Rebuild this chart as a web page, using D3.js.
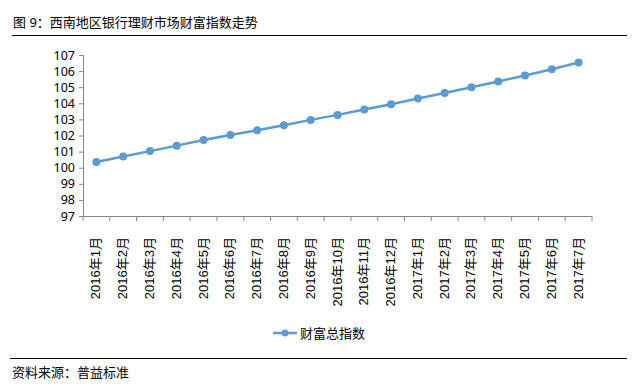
<!DOCTYPE html>
<html lang='zh'>
<head>
  <meta charset='utf-8'>
  <title>西南地区银行理财市场财富指数走势</title>
  <script src='https://cdn.jsdelivr.net/npm/d3@7'></script>
  <style>
    body { margin: 0; background: #fff; }
    text { font-family: "Noto Sans", "Noto Sans CJK SC", sans-serif; fill: #000; }
  </style>
</head>
<body>
  <script>
    // months on the x axis
    const months = ["2016年1月", "2016年2月", "2016年3月", "2016年4月", "2016年5月", "2016年6月",
      "2016年7月", "2016年8月", "2016年9月", "2016年10月", "2016年11月", "2016年12月",
      "2017年1月", "2017年2月", "2017年3月", "2017年4月", "2017年5月", "2017年6月", "2017年7月"];
    // wealth index values
    const wealthIndex = [100.35, 100.7, 101.03, 101.37, 101.72, 102.03, 102.32, 102.64, 102.97,
      103.28, 103.62, 103.94, 104.3, 104.64, 105.0, 105.36, 105.73, 106.12, 106.53];
    const yTicks = [97, 98, 99, 100, 101, 102, 103, 104, 105, 106, 107];
    const seriesName = "财富总指数";

    const W = 642, H = 385;
    const plot = { left: 83, right: 592, top: 55, bottom: 216 };
    const color = "#5B9BD5";

    const svg = d3.select("body").append("svg")
      .attr("width", W).attr("height", H);

    // title and rules
    svg.append("text").attr("x", 13).attr("y", 27)
      .style("font-size", "13px")
      .text("图 9：西南地区银行理财市场财富指数走势");
    svg.append("line").attr("x1", 12).attr("x2", 627).attr("y1", 35.5).attr("y2", 35.5)
      .attr("stroke", "#000").attr("stroke-width", 1);
    svg.append("line").attr("x1", 10).attr("x2", 627).attr("y1", 358.5).attr("y2", 358.5)
      .attr("stroke", "#000").attr("stroke-width", 1);
    svg.append("text").attr("x", 12).attr("y", 377)
      .style("font-size", "13px")
      .text("资料来源：普益标准");

    // scales
    const x = d3.scaleBand().domain(months).range([plot.left, plot.right]);
    const y = d3.scaleLinear().domain([97, 107]).range([plot.bottom, plot.top]);

    // y axis
    const yAxisG = svg.append("g")
      .attr("transform", `translate(${plot.left},0)`)
      .call(d3.axisLeft(y).tickValues(yTicks).tickSize(4).tickPadding(4));
    yAxisG.select(".domain").attr("stroke", "#868686");
    yAxisG.selectAll(".tick line").attr("stroke", "#868686");
    yAxisG.selectAll(".tick text").style("font-size", "12.5px").attr("fill", "#000");

    // x axis with ticks on band edges
    const xAxisG = svg.append("g")
      .attr("transform", `translate(0,${plot.bottom})`);
    xAxisG.append("line")
      .attr("x1", plot.left).attr("x2", plot.right)
      .attr("y1", 0.5).attr("y2", 0.5).attr("stroke", "#868686");
    const edges = months.map(m => x(m)).concat([plot.right]);
    xAxisG.selectAll(".edge").data(edges).join("line")
      .attr("x1", d => d).attr("x2", d => d)
      .attr("y1", 0).attr("y2", 5).attr("stroke", "#868686");
    xAxisG.selectAll(".lbl").data(months).join("text")
      .attr("transform", d => `translate(${x(d) + x.bandwidth() / 2 + 4},21) rotate(-90)`)
      .attr("text-anchor", "end")
      .style("font-family", "'Liberation Sans', 'Noto Sans CJK SC', sans-serif")
      .style("font-size", "13px")
      .text(d => d);

    // line and markers
    const pts = months.map((m, i) => ({ m, v: wealthIndex[i] }));
    const line = d3.line()
      .x(d => x(d.m) + x.bandwidth() / 2)
      .y(d => y(d.v));
    svg.append("path").datum(pts)
      .attr("d", line)
      .attr("fill", "none").attr("stroke", color).attr("stroke-width", 2.5);
    svg.selectAll(".pt").data(pts).join("circle")
      .attr("cx", d => x(d.m) + x.bandwidth() / 2)
      .attr("cy", d => y(d.v))
      .attr("r", 4).attr("fill", color);

    // legend
    const lg = svg.append("g").attr("transform", "translate(273,333)");
    lg.append("line").attr("x1", 0).attr("x2", 24).attr("y1", 0).attr("y2", 0)
      .attr("stroke", color).attr("stroke-width", 2.5);
    lg.append("circle").attr("cx", 12).attr("cy", 0).attr("r", 3.5).attr("fill", color);
    lg.append("text").attr("x", 27).attr("y", 5).style("font-size", "13px").text(seriesName);
  </script>
</body>
</html>
